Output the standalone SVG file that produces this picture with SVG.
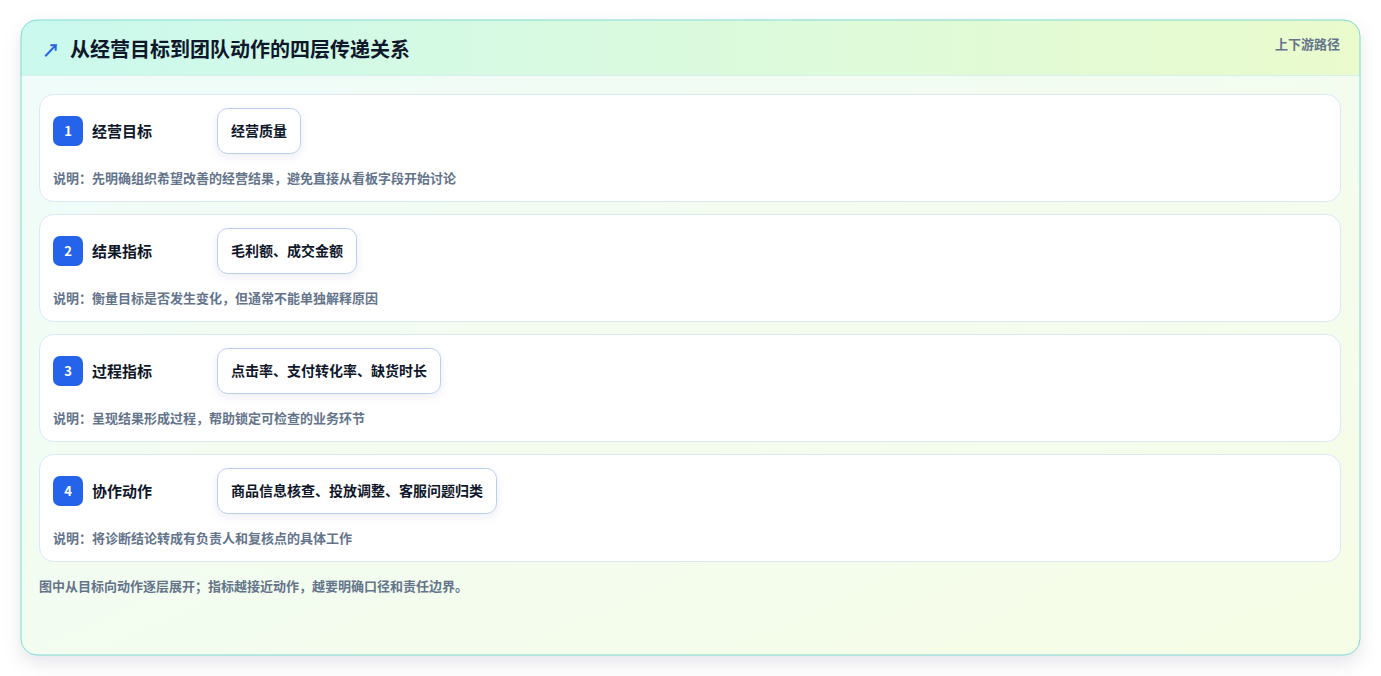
<svg xmlns="http://www.w3.org/2000/svg" width="1381" height="676" viewBox="0 0 1381 676">
<defs>
<linearGradient id="hdr" x1="0" y1="0" x2="1" y2="0">
<stop offset="0" stop-color="#cbf9ee"/>
<stop offset="1" stop-color="#eafbcd"/>
</linearGradient>
<linearGradient id="body" x1="0" y1="0" x2="1" y2="1">
<stop offset="0" stop-color="#effcfa"/>
<stop offset="1" stop-color="#f6fde6"/>
</linearGradient>
<filter id="sh" x="-5%" y="-10%" width="110%" height="125%">
<feDropShadow dx="0" dy="8" stdDeviation="9" flood-color="#0f172a" flood-opacity="0.10"/>
</filter>
<filter id="psh" x="-20%" y="-30%" width="140%" height="180%">
<feDropShadow dx="0" dy="3" stdDeviation="4" flood-color="#1e3a8a" flood-opacity="0.08"/>
</filter>
<clipPath id="cardclip"><rect x="21" y="20" width="1339" height="635" rx="16"/></clipPath>
</defs>
<style>
text{font-family:"Noto Sans CJK SC","Noto Sans",sans-serif;}
.row{fill:#ffffff;stroke:#dbe8f6;stroke-width:1;}
.badge{fill:#2563eb;}
.bnum{fill:#ffffff;font-size:13px;font-weight:700;text-anchor:middle;}
.lbl{fill:#0f172a;font-size:15px;font-weight:700;}
.pill{fill:#ffffff;stroke:#b9cdef;stroke-width:1;}
.ptxt{fill:#0f172a;font-size:14px;font-weight:700;}
.desc{fill:#64748b;font-size:13px;font-weight:700;}
</style>
<rect x="0" y="0" width="1381" height="676" fill="#ffffff"/>
<g id="card">
<rect x="21" y="20" width="1339" height="635" rx="16" fill="url(#body)" filter="url(#sh)"/>
<g clip-path="url(#cardclip)">
<rect x="21" y="20" width="1339" height="55" fill="url(#hdr)"/>
<line x1="21" y1="75.5" x2="1360" y2="75.5" stroke="#d6f1ec" stroke-width="1"/>
</g>
<rect x="21" y="20" width="1339" height="635" rx="16" fill="none" stroke="#7edcd0" stroke-width="1"/>
</g>
<g id="header">
<text x="42" y="57" fill="#2563eb" font-size="18" font-weight="700" font-family="DejaVu Sans, sans-serif">↗</text>
<text x="70" y="57" fill="#0f172a" font-size="20" font-weight="700">从经营目标到团队动作的四层传递关系</text>
<text x="1340" y="49" fill="#64748b" font-size="13" font-weight="700" text-anchor="end">上下游路径</text>
</g>
<g id="layer1">
<rect class="row" x="39.5" y="94.5" width="1301" height="107" rx="14"/>
<rect class="badge" x="53" y="116" width="30" height="30" rx="7"/>
<text class="bnum" x="68" y="136">1</text>
<text class="lbl" x="92" y="137">经营目标</text>
<rect class="pill" x="217.5" y="108.5" width="83" height="45" rx="10" filter="url(#psh)"/>
<text class="ptxt" x="231" y="136">经营质量</text>
<text class="desc" x="53" y="183">说明：先明确组织希望改善的经营结果，避免直接从看板字段开始讨论</text>
</g>
<g id="layer2">
<rect class="row" x="39.5" y="214.5" width="1301" height="107" rx="14"/>
<rect class="badge" x="53" y="236" width="30" height="30" rx="7"/>
<text class="bnum" x="68" y="256">2</text>
<text class="lbl" x="92" y="257">结果指标</text>
<rect class="pill" x="217.5" y="228.5" width="139" height="45" rx="10" filter="url(#psh)"/>
<text class="ptxt" x="231" y="256">毛利额、成交金额</text>
<text class="desc" x="53" y="303">说明：衡量目标是否发生变化，但通常不能单独解释原因</text>
</g>
<g id="layer3">
<rect class="row" x="39.5" y="334.5" width="1301" height="107" rx="14"/>
<rect class="badge" x="53" y="356" width="30" height="30" rx="7"/>
<text class="bnum" x="68" y="376">3</text>
<text class="lbl" x="92" y="377">过程指标</text>
<rect class="pill" x="217.5" y="348.5" width="223" height="45" rx="10" filter="url(#psh)"/>
<text class="ptxt" x="231" y="376">点击率、支付转化率、缺货时长</text>
<text class="desc" x="53" y="423">说明：呈现结果形成过程，帮助锁定可检查的业务环节</text>
</g>
<g id="layer4">
<rect class="row" x="39.5" y="454.5" width="1301" height="107" rx="14"/>
<rect class="badge" x="53" y="476" width="30" height="30" rx="7"/>
<text class="bnum" x="68" y="496">4</text>
<text class="lbl" x="92" y="497">协作动作</text>
<rect class="pill" x="217.5" y="468.5" width="279" height="45" rx="10" filter="url(#psh)"/>
<text class="ptxt" x="231" y="496">商品信息核查、投放调整、客服问题归类</text>
<text class="desc" x="53" y="543">说明：将诊断结论转成有负责人和复核点的具体工作</text>
</g>
<g id="connectors"></g>
<g id="footer">
<text class="desc" x="39" y="591">图中从目标向动作逐层展开；指标越接近动作，越要明确口径和责任边界。</text>
</g>
</svg>
